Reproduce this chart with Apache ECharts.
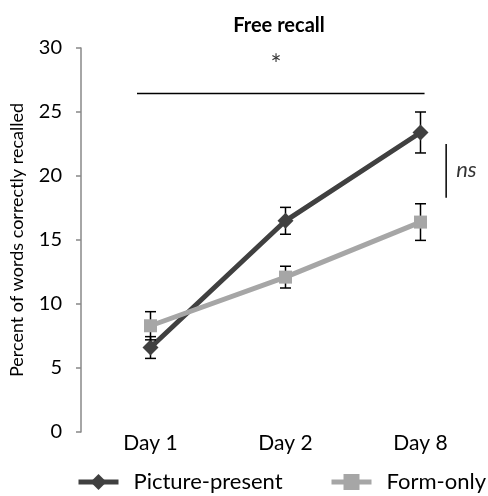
<!DOCTYPE html>
<html><head><meta charset="utf-8">
<script src="https://cdn.jsdelivr.net/npm/echarts@6/dist/echarts.min.js"></script>
<style>html,body{margin:0;padding:0;background:#fff}#c{width:488px;height:496px}</style>
</head><body><div id="c"></div>
<script>
const categories = ['Day 1', 'Day 2', 'Day 8'];
const picturePresent = [6.6, 16.5, 23.4];
const picturePresentErr = [0.85, 1.05, 1.6];
const formOnly = [8.3, 12.1, 16.4];
const formOnlyErr = [1.1, 0.85, 1.43];
const yTicks = [0, 5, 10, 15, 20, 25, 30];
// annotation positions in data space (x in category index units)
const sigLine = [[-0.1, 26.45], [2.03, 26.45]];
const sigStar = [0.93, 29.0];
const nsLine = [[2.19, 18.3], [2.19, 22.5]];
const nsText = [2.34, 20.5];

const FONT = 'Lato';
const DARK = '#404040', LIGHT = '#a6a6a6';

function errData(vals, errs) {
  return vals.map((v, i) => [i, v - errs[i], v + errs[i]]);
}
function errSeries(vals, errs, z) {
  return {
    type: 'custom', xAxisIndex: 1, z: z,
    data: errData(vals, errs),
    renderItem: function (params, api) {
      const lo = api.coord([api.value(0), api.value(1)]);
      const hi = api.coord([api.value(0), api.value(2)]);
      const w = 5.5;
      const st = { stroke: '#000', lineWidth: 1.5 };
      return { type: 'group', children: [
        { type: 'line', shape: { x1: lo[0], y1: lo[1], x2: hi[0], y2: hi[1] }, style: st },
        { type: 'line', shape: { x1: lo[0] - w, y1: lo[1], x2: lo[0] + w, y2: lo[1] }, style: st },
        { type: 'line', shape: { x1: hi[0] - w, y1: hi[1], x2: hi[0] + w, y2: hi[1] }, style: st }
      ]};
    },
    silent: true
  };
}

const legendBase = {
  top: 466, itemWidth: 40, itemHeight: 20,
  lineStyle: { width: 5 },
  textStyle: { fontFamily: FONT, fontSize: 22, color: '#000', padding: [0, 0, 0, 10] }
};

const chart = echarts.init(document.getElementById('c'));
chart.setOption({
  animation: false,
  textStyle: { fontFamily: FONT },
  title: {
    text: 'Free recall', left: 274, top: 11, textAlign: 'center',
    textStyle: { fontFamily: FONT, fontWeight: 'bold', fontSize: 20, color: '#000' }
  },
  grid: { left: 78, top: 48, width: 414, bottom: 64 },
  legend: [
    Object.assign({ left: 71, data: ['Picture-present'] }, legendBase),
    Object.assign({ left: 324, data: ['Form-only'] }, legendBase)
  ],
  xAxis: [{
    type: 'category', data: categories, boundaryGap: true,
    axisLine: { show: false }, axisTick: { show: false },
    axisLabel: { fontFamily: FONT, fontSize: 21, color: '#000', margin: 1 }
  }, {
    type: 'value', min: -0.5, max: 2.5, show: false
  }],
  yAxis: {
    type: 'value', min: 0, max: 30, interval: 5, offset: 2,
    name: 'Percent of words correctly recalled', nameLocation: 'middle', nameGap: 55,
    nameTextStyle: { fontFamily: FONT, fontSize: 18, color: '#000' },
    axisLine: { show: true, onZero: false, lineStyle: { color: '#888', width: 1.5 } },
    axisTick: { show: true, length: 5, lineStyle: { color: '#888', width: 1.5 } },
    splitLine: { show: false },
    axisLabel: { fontFamily: FONT, fontSize: 20, color: '#000', margin: 19,
      formatter: v => yTicks.indexOf(v) >= 0 ? String(v) : '' }
  },
  series: [
    errSeries(picturePresent, picturePresentErr, 3),
    {
      name: 'Picture-present', type: 'line', data: picturePresent, z: 4,
      symbol: 'diamond', symbolSize: 16,
      lineStyle: { color: DARK, width: 5 }, itemStyle: { color: DARK }
    },
    errSeries(formOnly, formOnlyErr, 5),
    {
      name: 'Form-only', type: 'line', data: formOnly, z: 6,
      symbol: 'rect', symbolSize: 13,
      lineStyle: { color: LIGHT, width: 5 }, itemStyle: { color: LIGHT }
    },
    {
      type: 'line', xAxisIndex: 1, data: sigLine, symbol: 'none', silent: true,
      lineStyle: { color: '#000', width: 1.5 }
    },
    {
      type: 'line', xAxisIndex: 1, data: nsLine, symbol: 'none', silent: true,
      lineStyle: { color: '#000', width: 1.5 }
    },
    {
      type: 'scatter', xAxisIndex: 1, symbolSize: 0, silent: true,
      data: [{ value: sigStar, label: { show: true, formatter: '*', fontSize: 26, offset: [0, 5] } },
             { value: nsText, label: { show: true, formatter: 'ns', fontSize: 22, fontStyle: 'italic' } }],
      label: { position: 'inside', color: '#000', fontFamily: FONT }
    }
  ]
});
</script></body></html>
